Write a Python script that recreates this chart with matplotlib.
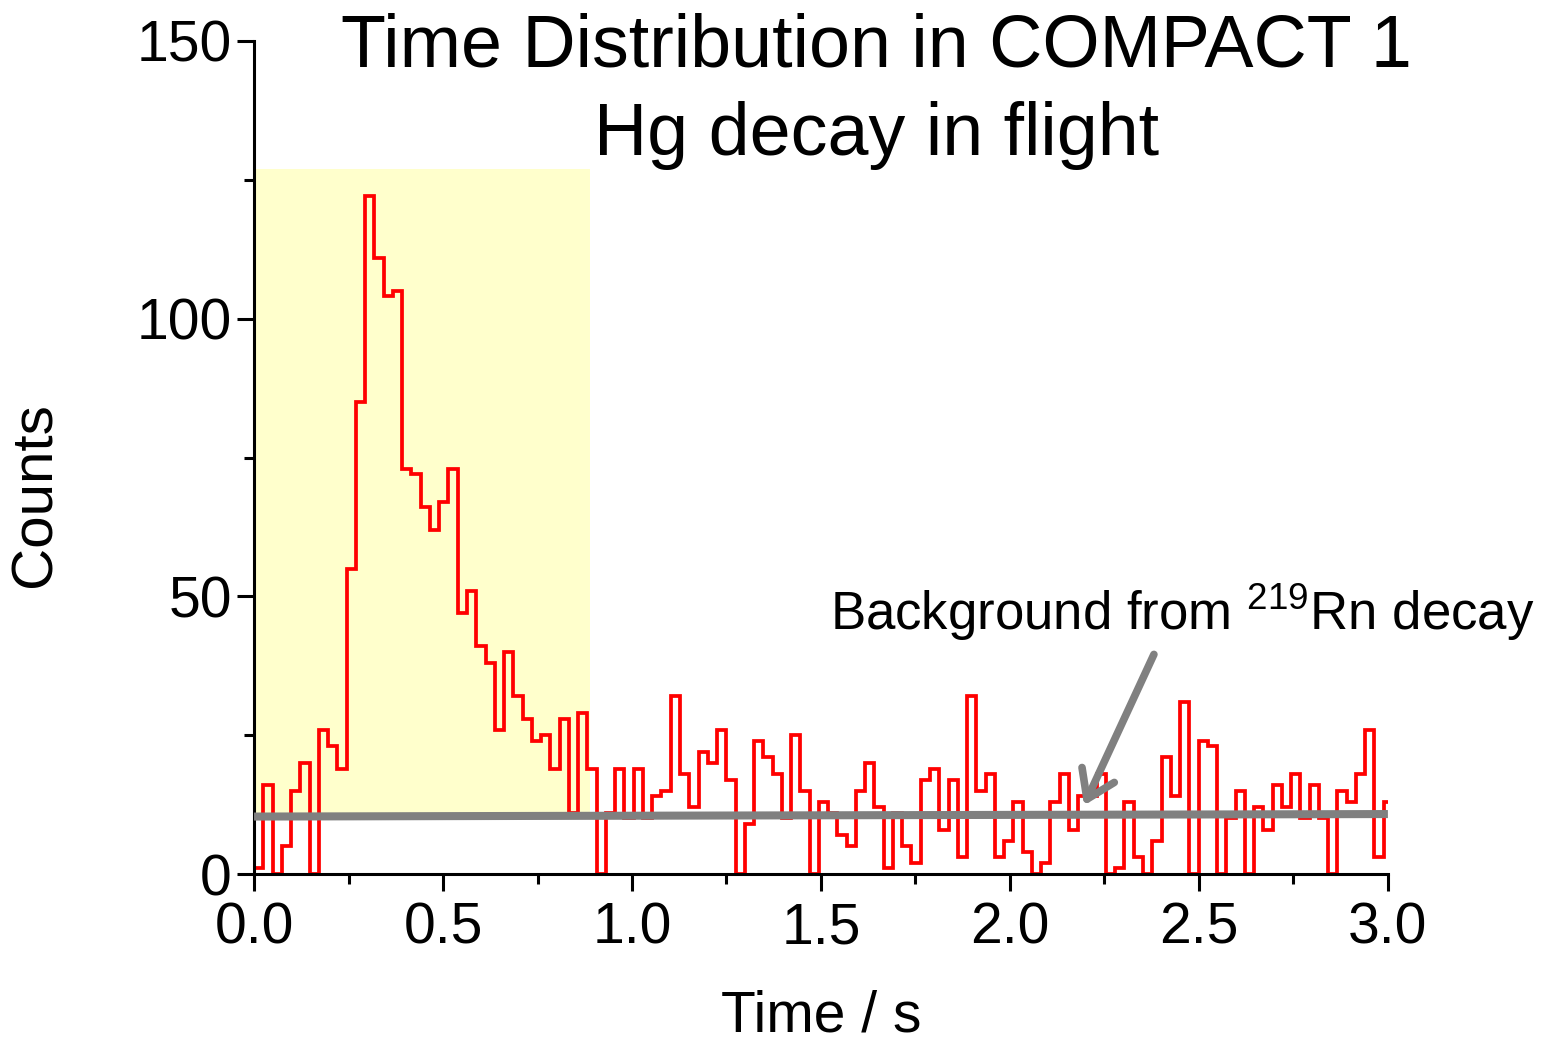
import numpy as np
import matplotlib
matplotlib.use("Agg")
import matplotlib.pyplot as plt
from matplotlib.patches import Rectangle

plt.rcParams["font.family"] = ["Liberation Sans", "DejaVu Sans"]
plt.rcParams["mathtext.default"] = "regular"

# histogram, bin width ~0.0245 s starting at t = 0
BIN_WIDTH = 0.0245
counts = [
    1, 16, 0, 5, 15, 20, 0, 26, 23, 19,
    55, 85, 122, 111, 104, 105, 73, 72, 66, 62,
    67, 73, 47, 51, 41, 38, 26, 40, 32, 28,
    24, 25, 19, 28, 11, 29, 19, 0, 11, 19,
    10, 19, 10, 14, 15, 32, 18, 12, 22, 20,
    26, 17, 0, 9, 24, 21, 18, 10, 25, 15,
    0, 13, 11, 7, 5, 15, 20, 12, 1, 11,
    5, 2, 17, 19, 8, 17, 3, 32, 15, 18,
    3, 6, 13, 4, 0, 2, 13, 18, 8, 14,
    14, 18, 0, 1, 13, 3, 0, 6, 21, 14,
    31, 0, 24, 23, 0, 10, 15, 0, 12, 8,
    16, 12, 18, 10, 16, 10, 0, 15, 13, 18,
    26, 3, 13,
]
# background line (219Rn), start / end
bg_t = [0.0, 3.0]
bg_counts = [10.35, 10.8]
# highlighted window
win_t = (0.0, 0.89)
win_counts = (11.0, 127.0)

edges = np.arange(len(counts) + 1) * BIN_WIDTH

fig = plt.figure(figsize=(15.49, 10.45), dpi=100)
ax = fig.add_axes([0.164, 0.1636, 0.732, 0.7972])

ax.add_patch(Rectangle((win_t[0], win_counts[0]), win_t[1] - win_t[0],
                       win_counts[1] - win_counts[0], facecolor="#FFFFCC",
                       edgecolor="none", zorder=0))
ax.stairs(counts, edges, baseline=None, color="red", lw=2.7, zorder=2)
ax.plot(bg_t, bg_counts, color="#808080", lw=5.8, zorder=3, solid_capstyle="butt")

ax.annotate("", xy=(2.193, 11.9), xytext=(2.384, 40.0),
            arrowprops=dict(arrowstyle="->,head_length=0.6,head_width=0.4",
                            mutation_scale=32, color="#808080", lw=5.5),
            zorder=4)
ax.text(1.524, 43.9, "Background from $^{219}$Rn decay", fontsize=38,
        va="baseline", ha="left", clip_on=False)

ax.set_xlim(0, 3.0)
ax.set_ylim(0, 150)
ax.set_xticks([0, 0.5, 1.0, 1.5, 2.0, 2.5, 3.0])
ax.set_xticks(np.arange(0.25, 3.0, 0.5), minor=True)
ax.set_yticks([0, 50, 100, 150])
ax.set_yticks([25, 75, 125], minor=True)
ax.xaxis.set_major_formatter(matplotlib.ticker.FormatStrFormatter("%.1f"))
for s in ["top", "right"]:
    ax.spines[s].set_visible(False)
for s in ["left", "bottom"]:
    ax.spines[s].set_linewidth(2.2)
ax.tick_params(which="major", length=12, width=2.2, labelsize=41)
ax.tick_params(which="minor", length=7, width=2.2)
ax.tick_params(axis="x", which="major", pad=8)
ax.tick_params(axis="y", which="major", pad=4)

ax.set_xlabel("Time / s", fontsize=41, labelpad=24)
ax.set_ylabel("Counts", fontsize=42)
ax.yaxis.set_label_coords(-0.169, 0.455)

fig.text(0.566, 0.988, "Time Distribution in COMPACT 1\nHg decay in flight",
         fontsize=53, ha="center", va="top", linespacing=1.36)

fig.savefig("out.png", dpi=100)
